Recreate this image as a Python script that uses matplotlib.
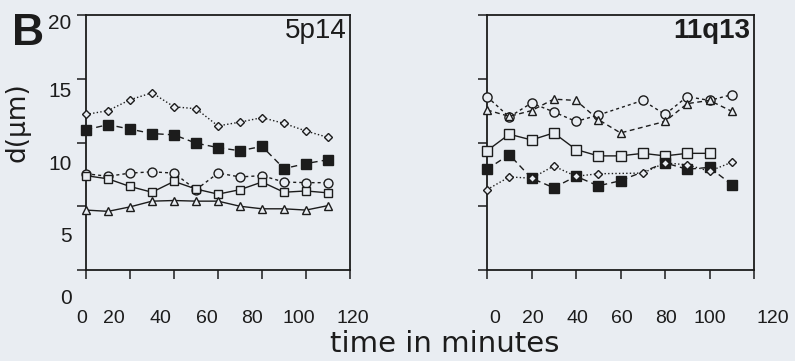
import matplotlib
matplotlib.use('Agg')
import matplotlib.pyplot as plt
from matplotlib.transforms import ScaledTranslation

# time points (minutes)
t_all = [0, 10, 20, 30, 40, 50, 60, 70, 80, 90, 100, 110]

# 5p14 panel
diamond_5p = [12.2, 12.5, 13.35, 13.9, 12.8, 12.65, 11.3, 11.6, 11.95, 11.5, 10.9, 10.4]
filled_5p = [11.0, 11.4, 11.05, 10.7, 10.6, 9.95, 9.6, 9.35, 9.7, 7.95, 8.35, 8.65]
circle_5p = [7.55, 7.35, 7.6, 7.7, 7.6, 6.3, 7.6, 7.3, 7.4, 6.9, 6.85, 6.85]
square_5p = [7.4, 7.15, 6.55, 6.1, 6.95, 6.35, 5.95, 6.3, 6.9, 6.1, 6.2, 6.05]
triangle_5p = [4.7, 4.6, 4.95, 5.4, 5.45, 5.4, 5.4, 5.0, 4.8, 4.8, 4.7, 5.05]

# 11q13 panel
t_circle_11q = [0, 10, 20, 30, 40, 50, 70, 80, 90, 100, 110]
circle_11q = [13.6, 12.0, 13.1, 12.4, 11.65, 12.15, 13.3, 12.2, 13.6, 13.3, 13.75]
t_triangle_11q = [0, 10, 20, 30, 40, 50, 60, 80, 90, 100, 110]
triangle_11q = [12.55, 12.05, 12.5, 13.4, 13.3, 11.8, 10.75, 11.65, 13.05, 13.3, 12.45]
t_square_11q = [0, 10, 20, 30, 40, 50, 60, 70, 80, 90, 100]
square_11q = [9.35, 10.65, 10.2, 10.75, 9.45, 8.95, 8.95, 9.15, 8.95, 9.15, 9.15]
t_filled_11q = [0, 10, 20, 30, 40, 50, 60, 80, 90, 100, 110]
filled_11q = [7.9, 9.05, 7.2, 6.45, 7.35, 6.6, 7.0, 8.4, 7.9, 8.05, 6.7]
t_diamond_11q = [0, 10, 20, 30, 40, 50, 70, 80, 90, 100, 110]
diamond_11q = [6.3, 7.3, 7.2, 8.15, 7.35, 7.55, 7.6, 8.4, 8.25, 7.75, 8.45]

x_ticks = [0, 20, 40, 60, 80, 100, 120]
y_ticks = [0, 5, 10, 15, 20]

bg = '#e9edf2'
ink = '#1c1c1c'

plt.rcParams['font.family'] = ['Liberation Sans', 'DejaVu Sans']

fig = plt.figure(figsize=(7.95, 3.61), dpi=100, facecolor=bg)
ax1 = fig.add_axes([86 / 795, 1 - 270 / 361, 264 / 795, 255 / 361])
ax2 = fig.add_axes([487 / 795, 1 - 270 / 361, 267 / 795, 255 / 361])


def draw(ax, x, y, marker, ls, filled=False, ms=6):
    ax.plot(x, y, color=ink, lw=1.0, ls=ls, marker=marker, ms=ms,
            mec=ink, mew=1.0, mfc=ink if filled else bg, zorder=3, clip_on=False)


dot = (0, (1, 1.6))
short = (0, (2.2, 2.2))
dash = (0, (4.5, 3))

# left panel
draw(ax1, t_all, diamond_5p, 'D', dot, ms=4.4)
draw(ax1, t_all, filled_5p, 's', dash, filled=True, ms=6.6)
draw(ax1, t_all, circle_5p, 'o', short, ms=6.4)
draw(ax1, t_all, square_5p, 's', '-', ms=6.4)
draw(ax1, t_all, triangle_5p, '^', '-', ms=6.4)

# right panel
draw(ax2, t_circle_11q, circle_11q, 'o', short, ms=6.6)
draw(ax2, t_triangle_11q, triangle_11q, '^', (0, (3.5, 2.5)), ms=6.4)
draw(ax2, t_square_11q, square_11q, 's', '-', ms=6.9)
draw(ax2, t_filled_11q, filled_11q, 's', dash, filled=True, ms=6.6)
draw(ax2, t_diamond_11q, diamond_11q, 'D', dot, ms=4.4)

# odd label placement of the scanned figure (px, right / down)
xoff_left = [-4, -16, -14, -11, -10, -7, 3]
xoff_right = [8, 1.5, 1, 1.5, 1, 0, 19]
yoff_left = [27, 28, 19.5, 10.5, 6.5]

for ax, xoff in [(ax1, xoff_left), (ax2, xoff_right)]:
    ax.set_facecolor(bg)
    ax.set_xlim(0, 120)
    ax.set_ylim(0, 20)
    ax.set_xticks(x_ticks)
    ax.set_yticks(y_ticks)
    for s in ax.spines.values():
        s.set_linewidth(1.3)
        s.set_color(ink)
    ax.tick_params(axis='both', direction='out', length=6.5, width=1.1, color=ink)
    ax.tick_params(axis='x', pad=22.5, labelsize=14, labelcolor=ink)
    ax.tick_params(axis='y', pad=4, labelsize=15, labelcolor=ink)
    for lab, dx in zip(ax.get_xticklabels(), xoff):
        lab.set_transform(lab.get_transform() + ScaledTranslation(dx / 100, 0, fig.dpi_scale_trans))

ax2.set_yticklabels([])
for lab, dy in zip(ax1.get_yticklabels(), yoff_left):
    lab.set_transform(lab.get_transform() + ScaledTranslation(0, -dy / 100, fig.dpi_scale_trans))

ax1.text(0.989, 0.99, '5p14', transform=ax1.transAxes, ha='right', va='top',
         fontsize=20, color=ink)
ax2.text(0.986, 0.99, '11q13', transform=ax2.transAxes, ha='right', va='top',
         fontsize=20, fontweight='bold', color=ink)

fig.text(12 / 795, 1 - 45 / 361, 'B', fontsize=32, fontweight='bold', color=ink,
         ha='left', va='baseline')
fig.text(18 / 795, 1 - 122 / 361, 'd(μm)', rotation=90, fontsize=19, color=ink,
         ha='center', va='center', family='DejaVu Sans')
fig.text(445 / 795, 1 - 344 / 361, 'time in minutes', fontsize=21, color=ink,
         ha='center', va='center', family='DejaVu Sans')

fig.savefig('out.png', dpi=100, facecolor=bg)
